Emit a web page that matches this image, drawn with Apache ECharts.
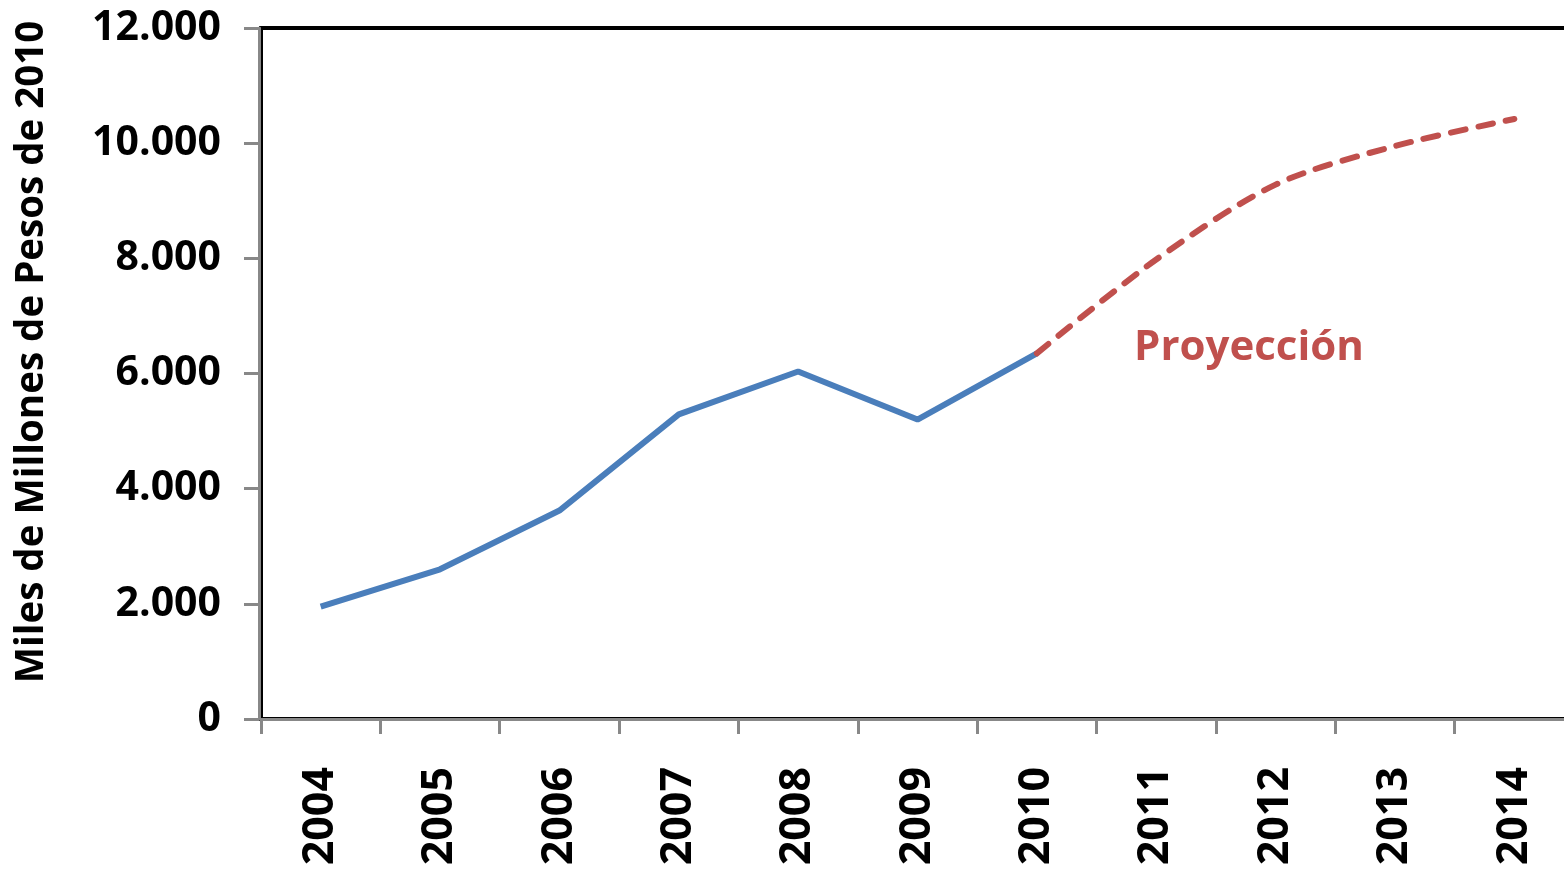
<!DOCTYPE html>
<html><head><meta charset="utf-8">
<script src="https://cdn.jsdelivr.net/npm/echarts@6/dist/echarts.min.js"></script>
<style>html,body{margin:0;padding:0;background:#fff;overflow:hidden}#c{width:1574px;height:873px}</style>
</head><body><div id="c"></div>
<script>
const years = ['2004','2005','2006','2007','2008','2009','2010','2011','2012','2013','2014'];
const historico = [1950, 2600, 3620, 5290, 6035, 5200, 6350, null, null, null, null];
const proyeccion = [null, null, null, null, null, null, 6350, 7980, 9280, 9950, 10420];
const yTicks = [0, 2000, 4000, 6000, 8000, 10000, 12000];
const yTitle = 'Miles de Millones de Pesos de 2010';
const projLabel = 'Proyección';

const FONT = '"Open Sans", "Liberation Sans", sans-serif';
const chart = echarts.init(document.getElementById('c'));
chart.setOption({
  animation: false,
  grid: { left: 261, top: 28, right: 0, bottom: 154, show: true, borderColor: '#000', borderWidth: 4, backgroundColor: 'transparent' },
  xAxis: {
    type: 'category', data: years, boundaryGap: true, offset: 2,
    axisLine: { show: true, lineStyle: { color: '#888', width: 3 } },
    axisTick: { show: true, alignWithLabel: false, length: 15, lineStyle: { color: '#888', width: 3 } },
    axisLabel: { rotate: 90, margin: 46, fontFamily: FONT, fontWeight: 'bold', fontSize: 43, color: '#000' },
    splitLine: { show: false }
  },
  yAxis: {
    type: 'value', min: yTicks[0], max: yTicks[yTicks.length - 1], interval: 2000, offset: 2,
    axisLine: { show: true, lineStyle: { color: '#888', width: 3 } },
    axisTick: { show: true, length: 15, lineStyle: { color: '#888', width: 3 } },
    axisLabel: { margin: 38, fontFamily: FONT, fontWeight: 'bold', fontSize: 41, color: '#000',
      formatter: v => v === 0 ? '0' : String(v).replace(/\B(?=(\d{3})+(?!\d))/g, '.') },
    splitLine: { show: false }
  },
  graphic: [
    { type: 'text', x: 32, y: 352, rotation: Math.PI / 2, style: { text: yTitle, fontFamily: FONT, fontWeight: 'bold', fontSize: 38.5, fill: '#000', textAlign: 'center', textVerticalAlign: 'middle' } },
    { type: 'text', x: 1249, y: 348, style: { text: projLabel, fontFamily: FONT, fontWeight: 'bold', fontSize: 42, fill: '#c0504d', textAlign: 'center', textVerticalAlign: 'middle' } }
  ],
  series: [
    { type: 'line', data: historico, showSymbol: false, connectNulls: false, lineStyle: { color: '#4a7ebb', width: 6 }, itemStyle: { color: '#4a7ebb' } },
    { type: 'line', data: proyeccion, showSymbol: false, smooth: 0.3, connectNulls: false, lineStyle: { color: '#c0504d', width: 6, type: [15, 13], cap: 'round' }, itemStyle: { color: '#c0504d' } }
  ]
});
</script></body></html>
